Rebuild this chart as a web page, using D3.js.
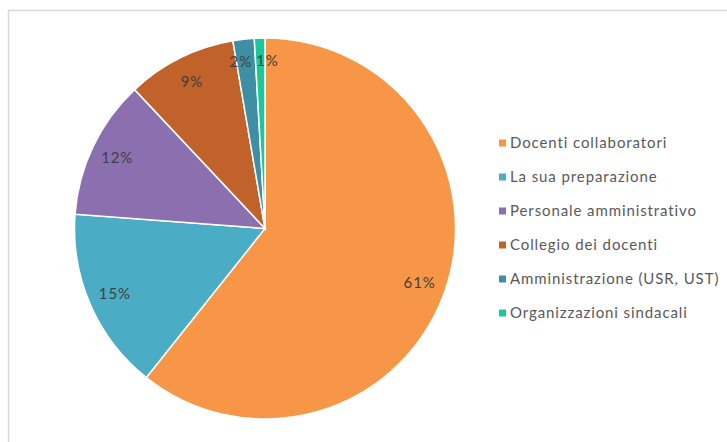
<!DOCTYPE html>
<html><head><meta charset="utf-8">
<script src="https://cdn.jsdelivr.net/npm/d3@7"></script>
<style>body{margin:0;background:#fff;}svg{display:block;}</style>
</head><body>
<svg id="c" width="727" height="442"></svg>
<script>
const categories = ["Docenti collaboratori","La sua preparazione","Personale amministrativo","Collegio dei docenti","Amministrazione (USR, UST)","Organizzazioni sindacali"];
const values = [60.7, 15.5, 11.8, 9.3, 1.8, 0.9];
const labels = ["61%","15%","12%","9%","2%","1%"];
const colors = ["#F79646","#4BACC6","#8B6FAE","#C0622A","#3E8EA4","#1BC79E"];

const svg = d3.select("#c");
svg.append("rect").attr("x",8.5).attr("y",10.5).attr("width",900).attr("height",600)
  .attr("fill","#fff").attr("stroke","#d9d9d9").attr("stroke-width",1.5);

const FONT = "Lato, 'Open Sans', sans-serif";
const cx = 265, cy = 228.5, r = 190.5;
const data = categories.map((c,i)=>({c, v: values[i], l: labels[i], col: colors[i]}));
const pie = d3.pie().value(d=>d.v).sort(null);
const arc = d3.arc().innerRadius(0).outerRadius(r);
const lab = d3.arc().innerRadius(r*0.86).outerRadius(r*0.86);
const labSmall = d3.arc().innerRadius(r*0.88).outerRadius(r*0.88);
const g = svg.append("g").attr("transform",`translate(${cx},${cy})`);
const arcs = pie(data);
g.selectAll("path").data(arcs).join("path").attr("d",arc)
  .attr("fill",d=>d.data.col).attr("stroke","#fff").attr("stroke-width",1.5);
g.selectAll("text").data(arcs).join("text")
  .each(function(d,i){
    const small = d.data.v < 3;
    const p = small ? labSmall.centroid(d) : lab.centroid(d);
    let anchor = "middle", x = p[0];
    if (small) {
      const nextSmall = i < arcs.length-1 && arcs[i+1].data.v < 3;
      if (nextSmall) { anchor = "end"; x = p[0] + 6; }
      else { anchor = "start"; x = p[0] - 4; }
    }
    d3.select(this).attr("x",x).attr("y",p[1]).attr("text-anchor",anchor);
  })
  .attr("dy","0.35em")
  .attr("font-family",FONT).attr("font-size",15).attr("letter-spacing","0.9px")
  .attr("fill","#404040").text(d=>d.data.l);

const ly = d3.scalePoint().domain(categories).range([143,313]);
const lg = svg.append("g");
categories.forEach((c,i)=>{
  lg.append("rect").attr("x",499).attr("y",ly(c)-3.5).attr("width",7).attr("height",7).attr("fill",colors[i]);
  lg.append("text").attr("x",510).attr("y",ly(c)).attr("dy","0.35em")
    .attr("font-family",FONT).attr("font-size",15).attr("letter-spacing","0.9px")
    .attr("fill","#595959").text(c);
});
</script>
</body></html>
